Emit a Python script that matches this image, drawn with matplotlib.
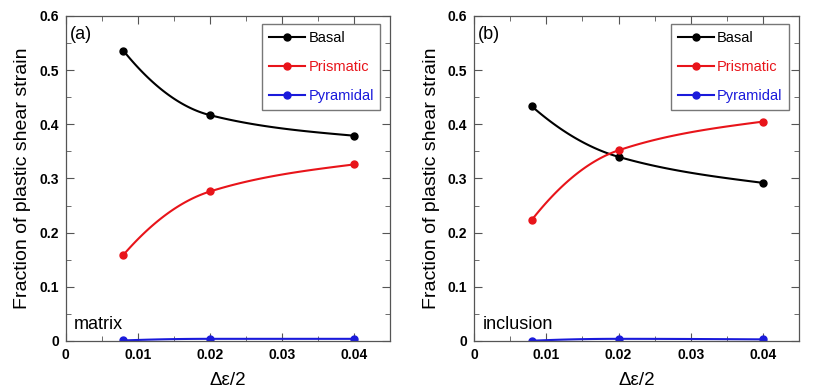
import matplotlib
matplotlib.use('Agg')
import matplotlib.pyplot as plt
import numpy as np
from matplotlib.ticker import MultipleLocator

plt.rcParams['font.family'] = ['Liberation Sans', 'DejaVu Sans']

strain = [0.008, 0.02, 0.04]

# panel (a) matrix
basal_a = [0.536, 0.417, 0.379]
prism_a = [0.159, 0.276, 0.326]
pyram_a = [0.001, 0.004, 0.004]

# panel (b) inclusion
basal_b = [0.433, 0.340, 0.292]
prism_b = [0.224, 0.352, 0.405]
pyram_b = [0.0005, 0.004, 0.003]

series_names = ['Basal', 'Prismatic', 'Pyramidal']
series_colors = ['black', '#e8141a', '#1a1adb']

panels = [
    ('(a)', 'matrix', [basal_a, prism_a, pyram_a]),
    ('(b)', 'inclusion', [basal_b, prism_b, pyram_b]),
]


def smooth(x, y):
    # cubic Hermite drawing curve through the points
    h = np.diff(x)
    d = np.diff(y) / h
    m = np.zeros(len(x))
    for k in range(1, len(x) - 1):
        if d[k - 1] * d[k] > 0:
            w1 = 2 * h[k] + h[k - 1]
            w2 = h[k] + 2 * h[k - 1]
            m[k] = (w1 + w2) / (w1 / d[k - 1] + w2 / d[k])
    m[0] = 2 * d[0] - m[1]
    m[-1] = 1.5 * d[-1] - 0.5 * m[-2]
    if m[0] * d[0] < 0:
        m[0] = 0
    if m[-1] * d[-1] < 0:
        m[-1] = 0
    xs_all, ys_all = [], []
    for k in range(len(x) - 1):
        t = np.linspace(0, 1, 40)
        h00 = 2 * t**3 - 3 * t**2 + 1
        h10 = t**3 - 2 * t**2 + t
        h01 = -2 * t**3 + 3 * t**2
        h11 = t**3 - t**2
        ys = h00 * y[k] + h10 * h[k] * m[k] + h01 * y[k + 1] + h11 * h[k] * m[k + 1]
        xs_all.append(x[k] + t * h[k])
        ys_all.append(ys)
    return np.concatenate(xs_all), np.concatenate(ys_all)


fig = plt.figure(figsize=(8.31, 3.92), dpi=100)
lefts = [65.7 / 831, 474.3 / 831]
w = 324.5 / 831
b = 1 - 341 / 392
h = 325 / 392

for i, (tag, region, data) in enumerate(panels):
    ax = fig.add_axes([lefts[i], b, w, h])
    x = np.array(strain, dtype=float)
    for name, col, y in zip(series_names, series_colors, data):
        xs, ys = smooth(x, np.array(y, dtype=float))
        ax.plot(xs, ys, color=col, lw=1.5)
        ax.plot(x, y, 'o', color=col, ms=5)
        ax.plot([], [], '-o', color=col, lw=1.5, ms=5, label=name)

    ax.set_xlim(0, 0.045)
    ax.set_ylim(0, 0.6)
    ax.xaxis.set_minor_locator(MultipleLocator(0.005))
    ax.yaxis.set_minor_locator(MultipleLocator(0.05))
    ax.set_xticks([0, 0.01, 0.02, 0.03, 0.04])
    ax.set_xticklabels(['0', '0.01', '0.02', '0.03', '0.04'], fontweight='bold')
    ax.set_yticks([0, 0.1, 0.2, 0.3, 0.4, 0.5, 0.6])
    ax.set_yticklabels(['0', '0.1', '0.2', '0.3', '0.4', '0.5', '0.6'], fontweight='bold')
    ax.tick_params(which='both', direction='in', top=True, right=True,
                   labelsize=10, pad=5, color='#555555')
    ax.tick_params(which='major', length=6)
    ax.tick_params(which='minor', length=3.5)
    for s in ax.spines.values():
        s.set_color('#555555')
        s.set_linewidth(0.9)

    ax.set_xlabel('Δε/2', fontsize=13.5, labelpad=7)
    ax.set_ylabel('Fraction of plastic shear strain', fontsize=14, labelpad=6)

    ax.text(0.012, 0.97, tag, transform=ax.transAxes, fontsize=13,
            ha='left', va='top')
    ax.text(0.025, 0.05, region, transform=ax.transAxes, fontsize=13,
            ha='left', va='center')

    leg = ax.legend(loc='upper right', bbox_to_anchor=(0.97, 0.975),
                    fontsize=10.5, labelcolor='linecolor', fancybox=False,
                    edgecolor='#777777', framealpha=1, numpoints=1,
                    handlelength=2.5, handletextpad=0.2, labelspacing=1.05,
                    borderpad=0.45, borderaxespad=0)
    leg.get_frame().set_linewidth(1.0)

fig.savefig('out.png', dpi=100, facecolor='white')
plt.close()
